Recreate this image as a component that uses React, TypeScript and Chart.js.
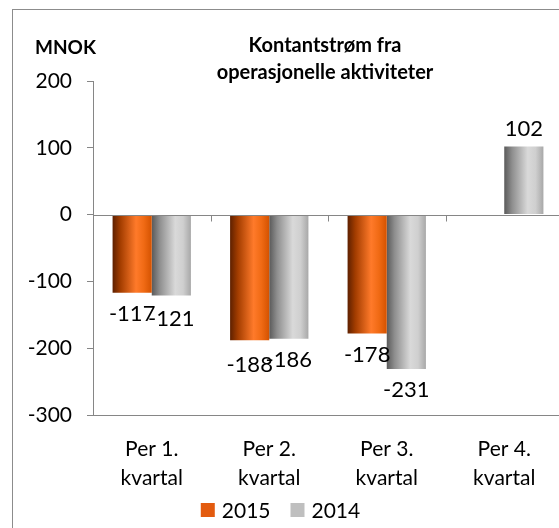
import React, { useEffect, useRef } from "react";
import { Chart, registerables } from "chart.js";

Chart.register(...registerables);

const categories: string[][] = [
  ["Per 1.", "kvartal"],
  ["Per 2.", "kvartal"],
  ["Per 3.", "kvartal"],
  ["Per 4.", "kvartal"],
];
const series2015: (number | null)[] = [-117, -188, -178, null];
const series2014: (number | null)[] = [-121, -186, -231, 102];
const seriesNames = ["2015", "2014"];
const yTicks = [200, 100, 0, -100, -200, -300];
const titleLines = ["Kontantstrøm fra", "operasjonelle aktiviteter"];
const unitLabel = "MNOK";

const FONT = "Lato, 'Noto Sans', sans-serif";
const AXIS = "#868686";

const solidColors = ["#e35b0f", "#bfbfbf"];
const gradStops = [
  ["#5e2000", "#a33d00", "#ff7a2a", "#f06a14", "#d45200"],
  ["#5a5a5a", "#8e8e8e", "#d9d9d9", "#cfcfcf", "#a8a8a8"],
];

const decorPlugin = {
  id: "decor",
  beforeDraw(chart: any) {
    const ctx = chart.ctx;
    ctx.save();
    ctx.fillStyle = "#ffffff";
    ctx.fillRect(0, 0, chart.width, chart.height);
    ctx.strokeStyle = "#8c8c8c";
    ctx.lineWidth = 1;
    ctx.strokeRect(12.5, 9.5, chart.width + 20, chart.height + 20);
    ctx.restore();
  },
  afterDatasetsUpdate(chart: any) {
    const ctx = chart.ctx;
    chart.data.datasets.forEach((ds: any, di: number) => {
      const meta = chart.getDatasetMeta(di);
      meta.data.forEach((el: any) => {
        const w = el.width || 1;
        const x0 = el.x - w / 2;
        const g = ctx.createLinearGradient(x0, 0, x0 + w, 0);
        const stops = gradStops[di];
        const pos = [0, 0.2, 0.6, 0.8, 1];
        stops.forEach((c, i) => g.addColorStop(pos[i], c));
        el.options = Object.assign({}, el.options, { backgroundColor: g });
      });
    });
  },
  afterDatasetsDraw(chart: any) {
    const ctx = chart.ctx;
    const xs = chart.scales.x;
    const ys = chart.scales.y;
    const area = chart.chartArea;
    const y0 = Math.round(ys.getPixelForValue(0)) + 0.5;
    ctx.save();
    ctx.strokeStyle = AXIS;
    ctx.lineWidth = 1;
    ctx.beginPath();
    ctx.moveTo(area.left, y0);
    ctx.lineTo(area.right, y0);
    const n = chart.data.labels.length;
    const cw = (area.right - area.left) / n;
    for (let i = 0; i <= n; i++) {
      const x = Math.round(xs.getPixelForValue(0) - cw / 2 + i * cw) + 0.5;
      ctx.moveTo(x, y0);
      ctx.lineTo(x, y0 + 6);
    }
    ctx.stroke();

    // data labels (with simple collision avoidance between neighbours)
    ctx.fillStyle = "#000000";
    ctx.font = `22px ${FONT}`;
    ctx.textAlign = "center";
    ctx.textBaseline = "middle";
    const labels: { x: number; y: number; w: number; v: number; cat: number }[] = [];
    chart.data.datasets.forEach((ds: any, di: number) => {
      const meta = chart.getDatasetMeta(di);
      meta.data.forEach((el: any, i: number) => {
        const v = ds.data[i];
        if (v === null || v === undefined) return;
        const y = v < 0 ? el.y + 21 : el.y - 18;
        labels.push({ x: el.x, y, w: ctx.measureText(String(v)).width, v, cat: i });
      });
    });
    for (let a = 0; a < labels.length; a++) {
      for (let b = 0; b < labels.length; b++) {
        const A = labels[a];
        const B = labels[b];
        if (a === b || A.cat !== B.cat || A.v >= 0 || B.v >= 0) continue;
        const overlapX = Math.abs(A.x - B.x) < (A.w + B.w) / 2;
        if (overlapX && A.v < B.v && Math.abs(A.y - B.y) < 6) {
          A.y = B.y + 5;
        }
      }
    }
    labels.forEach((l) => ctx.fillText(String(l.v), l.x, l.y));

    // title & unit
    ctx.font = `bold 19px ${FONT}`;
    ctx.textAlign = "left";
    ctx.fillText(unitLabel, 35, 48);
    ctx.font = `bold 20px ${FONT}`;
    ctx.textAlign = "center";
    titleLines.forEach((t, i) => ctx.fillText(t, 325, 46 + i * 27));

    // legend
    ctx.font = `21px ${FONT}`;
    ctx.textAlign = "left";
    const ly = 510;
    const box = 14;
    const gap = 7;
    const spacing = 20;
    const widths = seriesNames.map((s) => box + gap + ctx.measureText(s).width);
    const total = widths.reduce((a, b) => a + b, 0) + spacing * (widths.length - 1);
    let lx = 280.5 - total / 2;
    chart.data.datasets.forEach((ds: any, di: number) => {
      ctx.fillStyle = solidColors[di];
      ctx.fillRect(lx, ly - box / 2, box, box);
      ctx.fillStyle = "#000000";
      ctx.fillText(ds.label, lx + box + gap, ly + 1);
      lx += widths[di] + spacing;
    });
    ctx.restore();
  },
};

export default function App() {
  const ref = useRef<HTMLCanvasElement | null>(null);
  useEffect(() => {
    if (!ref.current) return;
    const chart = new Chart(ref.current, {
      type: "bar",
      data: {
        labels: categories,
        datasets: [
          { label: seriesNames[0], data: series2015, backgroundColor: solidColors[0], borderWidth: 0 },
          { label: seriesNames[1], data: series2014, backgroundColor: solidColors[1], borderWidth: 0 },
        ],
      },
      options: {
        responsive: false,
        animation: false,
        devicePixelRatio: 1,
        layout: { autoPadding: false, padding: { top: 81, left: 0, right: 17, bottom: 0 } },
        datasets: { bar: { categoryPercentage: 2 / 3, barPercentage: 1 } },
        plugins: { legend: { display: false }, title: { display: false }, tooltip: { enabled: false } },
        scales: {
          x: {
            grid: { display: false, drawTicks: false },
            border: { display: true, color: AXIS, width: 1 },
            ticks: { color: "#000000", font: { family: FONT, size: 21, lineHeight: 1.42 }, padding: 19, maxRotation: 0, autoSkip: false },
            afterFit: (s: any) => { s.height = 540 - 415; },
          },
          y: {
            min: -300,
            max: 200,
            afterBuildTicks: (s: any) => { s.ticks = yTicks.map((v) => ({ value: v })); },
            grid: { drawOnChartArea: false, drawTicks: true, tickLength: 6, color: AXIS },
            border: { display: true, color: AXIS, width: 1 },
            ticks: { color: "#000000", font: { family: FONT, size: 21 }, padding: 15 },
            afterFit: (s: any) => { s.width = 93; },
          },
        },
      },
      plugins: [decorPlugin],
    });
    return () => chart.destroy();
  }, []);
  return (
    <div style={{ position: "fixed", left: 0, top: 0, width: 559, height: 528, overflow: "hidden", background: "#fff" }}>
      <canvas ref={ref} width={580} height={540} style={{ display: "block", width: 580, height: 540 }} />
    </div>
  );
}
